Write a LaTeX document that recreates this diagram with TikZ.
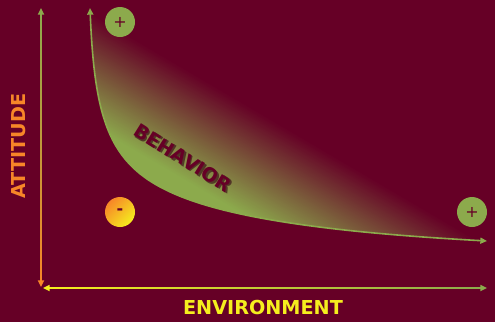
\documentclass[tikz,border=0pt]{standalone}
\usepackage{fontspec}
\setmainfont{DejaVu Sans}
\usepackage{tikz}
\usetikzlibrary{arrows.meta}
\definecolor{SlideBG}{RGB}{102,0,38}
\definecolor{LeafGreen}{RGB}{140,170,76}
\definecolor{AxisOrange}{RGB}{247,134,40}
\definecolor{AxisYellow}{RGB}{245,238,30}
\definecolor{ShadowRed}{RGB}{50,0,18}

\begin{document}
\begin{tikzpicture}[
  x=0.75pt, y=-0.75pt,
  axislabel/.style={inner sep=0pt, font=\fontsize{14.4}{16}\selectfont\bfseries},
  behtext/.style={inner sep=0pt, rotate=-32, font=\fontsize{14.4}{16}\selectfont\bfseries},
  sign/.style={circle, minimum size=22.5pt, inner sep=0pt, text=SlideBG,
               font=\fontsize{12}{12}\selectfont},
  axistip/.style={-{Triangle[length=5pt, width=4.5pt]}, line width=1.2pt}
]
\path[use as bounding box, fill=SlideBG] (0,0) rectangle (495,322);
\coordinate (ytop) at (41,8);
\coordinate (ybot) at (41,287);
\coordinate (xleft) at (43,288);
\coordinate (xright) at (487,288);
\coordinate (cstart) at (90,8);
\coordinate (cend) at (487,241);
\begin{scope}
  \clip (cstart) .. controls (95,130) and (112,172) .. (190,200)
        .. controls (260,225) and (380,235) .. (cend) -- cycle;
  \begin{scope}[shift={(cstart)}, rotate=-30.4]
    \foreach \d [evaluate=\d as \p using {min(100,max(0,(\d-4)*100/96))}] in {0,...,130}
      \fill[LeafGreen!\p!SlideBG] (-60,\d) rectangle (520,\d+2);
  \end{scope}
\end{scope}
\draw[LeafGreen, line width=1.2pt, {Triangle[length=5pt, width=4.5pt]}-{Triangle[length=5pt, width=4.5pt]}]
  (cstart) .. controls (95,130) and (112,172) .. (190,200)
  .. controls (260,225) and (380,235) .. (cend);
\shade[top color=LeafGreen, bottom color=AxisOrange] (40.2,14) rectangle (41.8,282);
\shade[left color=AxisYellow, middle color=AxisYellow, right color=LeafGreen] (48,287.2) rectangle (482,288.8);
\draw[axistip, LeafGreen] (41,16) -- (ytop);
\draw[axistip, AxisOrange] (41,279) -- (ybot);
\draw[axistip, AxisYellow] (51,288) -- (xleft);
\draw[axistip, LeafGreen] (479,288) -- (xright);
\node[sign, fill=LeafGreen] (plustop) at (120,22) {+};
\node[sign, top color=AxisOrange, bottom color=AxisYellow, shading angle=45] (minus) at (120,212) {\bfseries -};
\node[sign, fill=LeafGreen] (plusright) at (472,212) {+};
\node[axislabel, text=AxisYellow, anchor=base] (envlabel) at (263,314) {ENVIRONMENT};
\node[axislabel, text=AxisOrange, rotate=90, anchor=base] (attlabel) at (25,146) {ATTITUDE};
\node[behtext, text=ShadowRed, opacity=.6] (behshadow) at (184.5,159.5) {BEHAVIOR};
\node[behtext, text=SlideBG] (behlabel) at (183,158) {BEHAVIOR};
\end{tikzpicture}
\end{document}
